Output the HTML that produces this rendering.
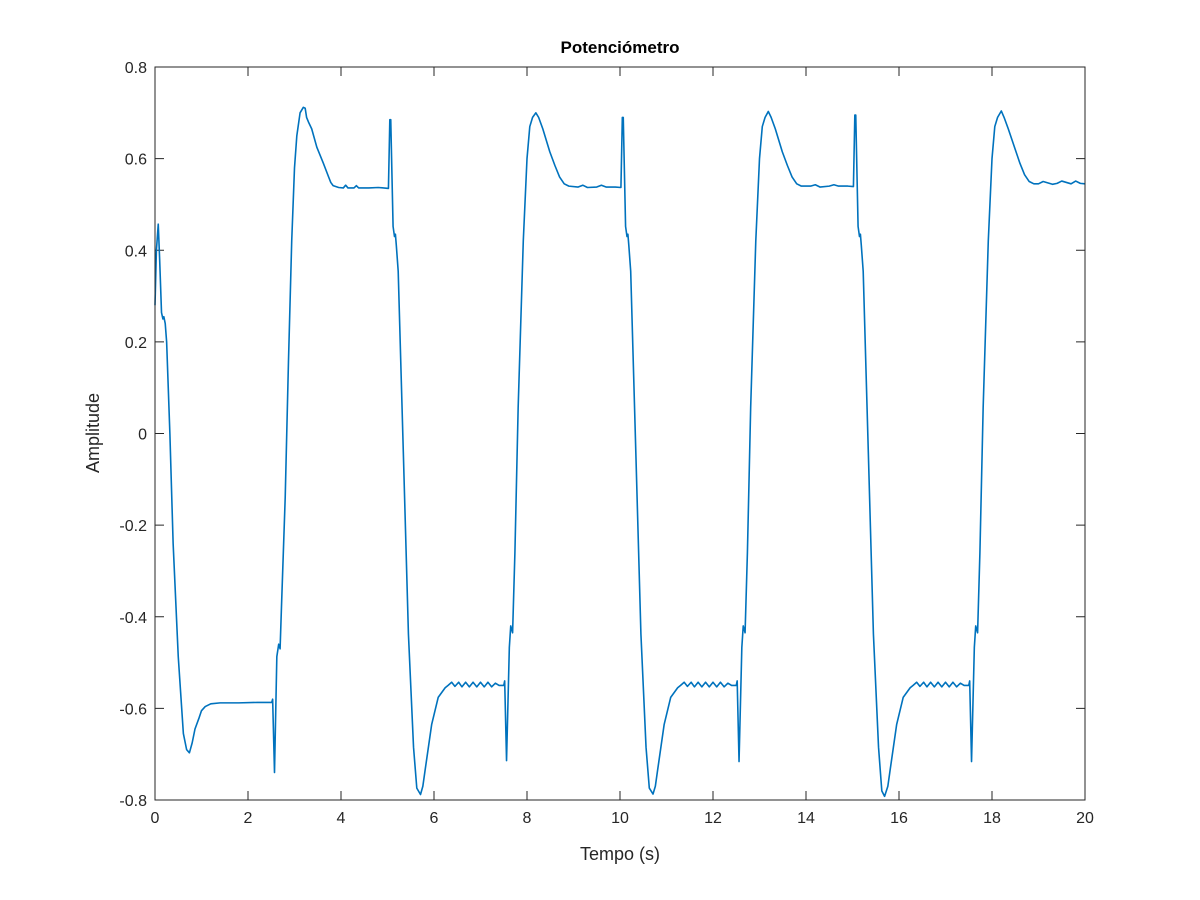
<!DOCTYPE html>
<html><head><meta charset="utf-8"><style>
html,body{margin:0;padding:0;background:#fff;}
svg{display:block;font-family:"Liberation Sans",Arial,sans-serif;}
</style></head><body>
<svg id="chart" width="1200" height="900" viewBox="0 0 1200 900" xmlns="http://www.w3.org/2000/svg">
<rect x="0" y="0" width="1200" height="900" fill="#fff"/>
<text x="620" y="53" text-anchor="middle" font-size="17" font-weight="bold" fill="#000">Potenciómetro</text>
<g id="ticks"></g>
<path id="line" fill="none" stroke="#0072BD" stroke-width="1.6" stroke-linejoin="round"/>
<rect x="155" y="67" width="930" height="733" fill="none" stroke="#262626" stroke-width="1"/>
<text x="620" y="860" text-anchor="middle" font-size="18" fill="#262626">Tempo (s)</text>
<text transform="translate(99,433) rotate(-90)" text-anchor="middle" font-size="18" fill="#262626">Amplitude</text>
</svg>
<script>
const xTicks=[0,2,4,6,8,10,12,14,16,18,20];
const yTicks=[0.8,0.6,0.4,0.2,0,-0.2,-0.4,-0.6,-0.8];
const yTickLabels=["0.8","0.6","0.4","0.2","0","-0.2","-0.4","-0.6","-0.8"];
const times=[0,0.03,0.07,0.1,0.14,0.17,0.19,0.22,0.25,0.32,0.39,0.5,0.61,0.68,0.74,0.8,0.86,0.95,1.0,1.08,1.2,1.4,1.8,2.2,2.51,2.53,2.57,2.62,2.66,2.69,2.72,2.8,2.87,2.94,3.0,3.05,3.12,3.19,3.23,3.26,3.3,3.37,3.48,3.62,3.73,3.78,3.83,3.95,4.05,4.1,4.15,4.28,4.33,4.38,4.6,4.8,5.02,
5.05,5.07,5.12,5.15,5.17,5.19,5.23,5.34,5.45,5.56,5.63,5.71,5.76,5.81,5.95,6.09,6.24,6.3,6.38,6.45,6.53,6.6,6.68,6.76,6.84,6.92,7.0,7.08,7.16,7.24,7.32,7.4,7.5,7.52,7.56,7.62,7.65,7.69,7.74,7.81,7.92,8.0,8.06,8.12,8.19,8.25,8.34,8.49,8.6,8.7,8.8,8.9,9.1,9.2,9.3,9.5,9.6,9.7,9.9,10.02,
10.05,10.07,10.12,10.15,10.17,10.19,10.23,10.34,10.45,10.56,10.63,10.71,10.76,10.81,10.95,11.09,11.24,11.3,11.38,11.45,11.53,11.6,11.68,11.76,11.84,11.92,12.0,12.08,12.16,12.24,12.32,12.4,12.5,12.52,12.56,12.62,12.65,12.69,12.74,12.81,12.92,13.0,13.06,13.12,13.19,13.25,13.34,13.49,13.6,13.7,13.8,13.9,14.1,14.2,14.3,14.5,14.6,14.7,14.9,15.02,
15.05,15.07,15.12,15.15,15.17,15.19,15.23,15.34,15.45,15.56,15.63,15.69,15.76,15.81,15.95,16.09,16.24,16.3,16.38,16.45,16.53,16.6,16.68,16.76,16.84,16.92,17.0,17.08,17.16,17.24,17.32,17.4,17.5,17.52,17.56,17.62,17.65,17.69,17.74,17.81,17.92,18.0,18.06,18.12,18.2,18.26,18.35,18.5,18.6,18.7,18.8,18.9,19.0,19.1,19.3,19.4,19.5,19.7,19.8,19.9,20.0];
const values=[0.28,0.40,0.457,0.38,0.264,0.25,0.255,0.24,0.2,0.0,-0.24,-0.487,-0.655,-0.69,-0.697,-0.675,-0.645,-0.62,-0.605,-0.596,-0.59,-0.588,-0.588,-0.587,-0.587,-0.58,-0.74,-0.487,-0.46,-0.47,-0.378,-0.14,0.156,0.42,0.58,0.65,0.70,0.712,0.71,0.69,0.68,0.665,0.625,0.59,0.561,0.548,0.541,0.537,0.536,0.542,0.536,0.536,0.541,0.536,0.536,0.537,0.535,
0.685,0.685,0.452,0.43,0.435,0.41,0.354,-0.04,-0.438,-0.685,-0.774,-0.788,-0.77,-0.734,-0.635,-0.576,-0.555,-0.55,-0.543,-0.552,-0.543,-0.553,-0.543,-0.553,-0.543,-0.553,-0.543,-0.553,-0.543,-0.553,-0.545,-0.55,-0.55,-0.54,-0.714,-0.467,-0.42,-0.435,-0.26,0.057,0.42,0.6,0.67,0.69,0.70,0.69,0.665,0.615,0.585,0.56,0.545,0.54,0.538,0.542,0.537,0.538,0.542,0.538,0.538,0.537,
0.69,0.69,0.452,0.43,0.435,0.41,0.354,-0.04,-0.438,-0.685,-0.774,-0.787,-0.77,-0.734,-0.635,-0.576,-0.555,-0.55,-0.543,-0.552,-0.543,-0.553,-0.543,-0.553,-0.543,-0.553,-0.543,-0.553,-0.543,-0.553,-0.545,-0.55,-0.55,-0.54,-0.716,-0.467,-0.42,-0.435,-0.26,0.057,0.42,0.6,0.67,0.69,0.703,0.69,0.665,0.615,0.585,0.56,0.545,0.54,0.54,0.543,0.538,0.54,0.543,0.54,0.54,0.539,
0.695,0.695,0.452,0.43,0.435,0.41,0.354,-0.04,-0.438,-0.685,-0.78,-0.792,-0.77,-0.734,-0.635,-0.576,-0.555,-0.55,-0.543,-0.552,-0.543,-0.553,-0.543,-0.553,-0.543,-0.553,-0.543,-0.553,-0.543,-0.553,-0.545,-0.55,-0.55,-0.54,-0.716,-0.467,-0.42,-0.435,-0.26,0.057,0.42,0.6,0.67,0.69,0.704,0.69,0.665,0.62,0.59,0.565,0.55,0.545,0.545,0.55,0.544,0.546,0.551,0.545,0.551,0.546,0.545];
const X0=155,X1=1085,Y0=800,Y1=67;
function sx(t){return X0+(t-0)/(20-0)*(X1-X0);}
function sy(v){return Y0-(v+0.8)/1.6*(Y0-Y1);}
const NS="http://www.w3.org/2000/svg";
const g=document.getElementById('ticks');
function mk(tag,attrs){const e=document.createElementNS(NS,tag);for(const k in attrs)e.setAttribute(k,attrs[k]);return e;}
xTicks.forEach(function(t){
  const x=sx(t);
  const l1=mk('line',{x1:x,x2:x,y1:Y0,y2:Y0-9,stroke:'#262626'});
  
  
  g.appendChild(l1);
  const l2=mk('line',{x1:x,x2:x,y1:Y1,y2:Y1+9,stroke:'#262626'});
  
  
  g.appendChild(l2);
  const tx=mk('text',{x:x,y:Y0+23,'text-anchor':'middle','font-size':'16',fill:'#262626'});
  tx.textContent=String(t);
  
  
  g.appendChild(tx);
});
yTicks.forEach(function(v,i){
  const y=sy(v);
  const l1=mk('line',{x1:X0,x2:X0+9,y1:y,y2:y,stroke:'#262626'});
  
  
  g.appendChild(l1);
  const l2=mk('line',{x1:X1,x2:X1-9,y1:y,y2:y,stroke:'#262626'});
  
  
  g.appendChild(l2);
  const tx=mk('text',{x:X0-8,y:y+6,'text-anchor':'end','font-size':'16',fill:'#262626'});
  tx.textContent=yTickLabels[i];
  
  
  g.appendChild(tx);
});
let d='';
for(let i=0;i<times.length;i++){d+=(i?'L':'M')+sx(times[i]).toFixed(2)+','+sy(values[i]).toFixed(2);}
document.getElementById('line').setAttribute('d',d);
</script>
</body></html>
